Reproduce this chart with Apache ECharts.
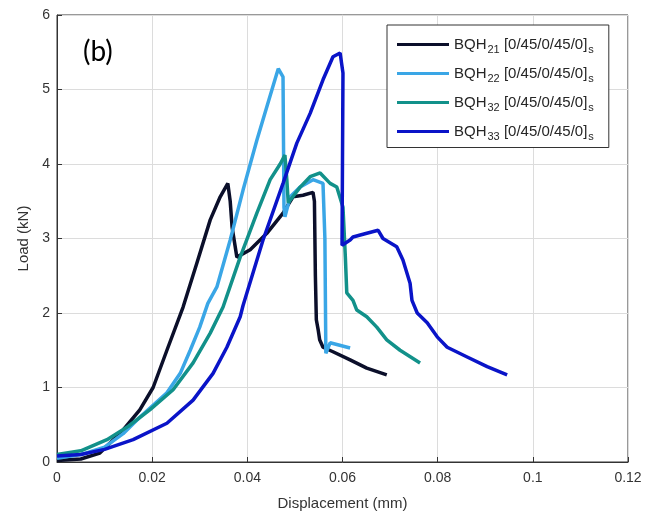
<!DOCTYPE html>
<html>
<head>
<meta charset="utf-8">
<script src="https://cdn.jsdelivr.net/npm/echarts@6/dist/echarts.min.js"></script>
<style>html,body{margin:0;padding:0;background:#fff;}#c{width:662px;height:520px;}</style>
</head>
<body>
<div id="c"></div>
<script>
const seriesNames = ['BQH21', 'BQH22', 'BQH32', 'BQH33'];
const xTicks = [0, 0.02, 0.04, 0.06, 0.08, 0.1, 0.12];
const yTicks = [0, 1, 2, 3, 4, 5, 6];

const bqh21 = [[0,0.02],[0.005,0.04],[0.009,0.12],[0.0128,0.36],[0.0139,0.43],[0.0174,0.70],[0.0202,1.0],[0.0231,1.50],[0.0265,2.08],[0.0294,2.67],[0.0322,3.25],[0.0343,3.56],[0.0359,3.74],[0.0364,3.5],[0.0368,3.15],[0.0378,2.75],[0.0406,2.85],[0.0441,3.07],[0.0475,3.34],[0.0496,3.56],[0.0517,3.58],[0.0538,3.62],[0.0541,3.5],[0.0543,2.5],[0.0545,1.91],[0.0549,1.77],[0.0552,1.64],[0.0559,1.54],[0.058,1.48],[0.0616,1.37],[0.0651,1.26],[0.0693,1.17]];

const bqh22 = [[0,0.05],[0.005,0.1],[0.01,0.2],[0.0139,0.38],[0.0174,0.60],[0.0231,0.93],[0.0259,1.19],[0.028,1.50],[0.030,1.81],[0.0317,2.13],[0.0336,2.35],[0.0364,2.98],[0.0391,3.65],[0.042,4.32],[0.0441,4.77],[0.0458,5.13],[0.0465,5.28],[0.0475,5.17],[0.0476,4.3],[0.0477,3.42],[0.0479,3.29],[0.049,3.56],[0.0511,3.69],[0.0538,3.79],[0.0559,3.74],[0.0563,3.0],[0.0565,1.46],[0.0574,1.60],[0.0616,1.53]];

const bqh32 = [[0,0.1],[0.005,0.15],[0.0105,0.30],[0.015,0.48],[0.0195,0.70],[0.0244,0.97],[0.0286,1.33],[0.0322,1.73],[0.0349,2.08],[0.0385,2.75],[0.042,3.34],[0.0448,3.79],[0.0469,4.0],[0.0479,4.12],[0.0483,3.79],[0.0486,3.48],[0.0511,3.69],[0.0532,3.83],[0.0553,3.88],[0.0574,3.74],[0.0588,3.69],[0.0601,3.42],[0.0606,2.75],[0.0609,2.27],[0.0622,2.17],[0.063,2.04],[0.0651,1.95],[0.0672,1.81],[0.0693,1.64],[0.0721,1.50],[0.0763,1.33]];

const bqh33 = [[0,0.08],[0.005,0.1],[0.01,0.17],[0.016,0.30],[0.0231,0.52],[0.0286,0.83],[0.0328,1.19],[0.0357,1.54],[0.0385,1.95],[0.0391,2.1],[0.0433,2.98],[0.0475,3.74],[0.0504,4.28],[0.0532,4.68],[0.0559,5.13],[0.058,5.44],[0.0595,5.49],[0.0601,5.22],[0.0599,2.91],[0.0616,2.98],[0.0622,3.02],[0.0651,3.07],[0.0675,3.11],[0.0685,3.0],[0.0714,2.89],[0.0727,2.71],[0.0742,2.40],[0.0746,2.17],[0.0757,2.0],[0.0778,1.87],[0.0799,1.68],[0.082,1.54],[0.0862,1.41],[0.0904,1.28],[0.0946,1.17]];

const colors = ['#0b0f2a', '#3aa6e6', '#12918a', '#0a14c8'];
const subs = {BQH21:'21', BQH22:'22', BQH32:'32', BQH33:'33'};

const chart = echarts.init(document.getElementById('c'));
const fontFam = 'Liberation Sans, Arial, sans-serif';
const datas = [bqh21, bqh22, bqh32, bqh33];
chart.setOption({
  animation: false,
  backgroundColor: '#fff',
  textStyle: {fontFamily: fontFam},
  grid: {left: 57, top: 15, right: 34, bottom: 58, show: true, borderColor: '#333', borderWidth: 1},
  legend: {
    left: 387, top: 25, orient: 'vertical', icon: 'rect', itemWidth: 52, itemHeight: 3, itemGap: 10.5,
    borderColor: '#333', borderWidth: 1, padding: [12, 15, 5, 10], backgroundColor: '#fff',
    data: seriesNames,
    formatter: n => '{a|BQH}{b|' + subs[n] + '}{a| [0/45/0/45/0]}{b|s}',
    textStyle: {
      color: '#262626',
      rich: {
        a: {fontSize: 15, fontFamily: fontFam, color: '#262626'},
        b: {fontSize: 11, fontFamily: fontFam, color: '#262626', padding: [11, 0, 0, 1]}
      }
    }
  },
  xAxis: {
    type: 'value', min: xTicks[0], max: xTicks[xTicks.length - 1], interval: 0.02,
    name: 'Displacement (mm)', nameLocation: 'middle', nameGap: 34,
    nameTextStyle: {fontSize: 15, color: '#333'},
    axisLine: {show: true, lineStyle: {color: '#333'}},
    axisTick: {show: true, inside: true, length: 5, lineStyle: {color: '#333'}},
    axisLabel: {fontSize: 14, color: '#333', margin: 9, formatter: v => String(+v.toFixed(2))},
    splitLine: {show: true, lineStyle: {color: '#dcdcdc'}}
  },
  yAxis: {
    type: 'value', min: yTicks[0], max: yTicks[yTicks.length - 1], interval: 1,
    name: 'Load (kN)', nameLocation: 'middle', nameGap: 24,
    nameTextStyle: {fontSize: 15, color: '#333'},
    axisLine: {show: true, lineStyle: {color: '#333'}},
    axisTick: {show: true, inside: true, length: 5, lineStyle: {color: '#333'}},
    axisLabel: {fontSize: 14, color: '#333', margin: 7},
    splitLine: {show: true, lineStyle: {color: '#dcdcdc'}}
  },
  graphic: [{
    type: 'text', left: 83, top: 38,
    style: {text: '(b)', fontSize: 28, fontFamily: 'Lato, Open Sans, sans-serif', fill: '#000'}
  }],
  series: seriesNames.map((n, i) => ({
    name: n, type: 'line', data: datas[i], showSymbol: false, symbol: 'none',
    lineStyle: {color: colors[i], width: 3.5}, itemStyle: {color: colors[i]},
    emphasis: {disabled: true}
  }))
});
</script>
</body>
</html>
